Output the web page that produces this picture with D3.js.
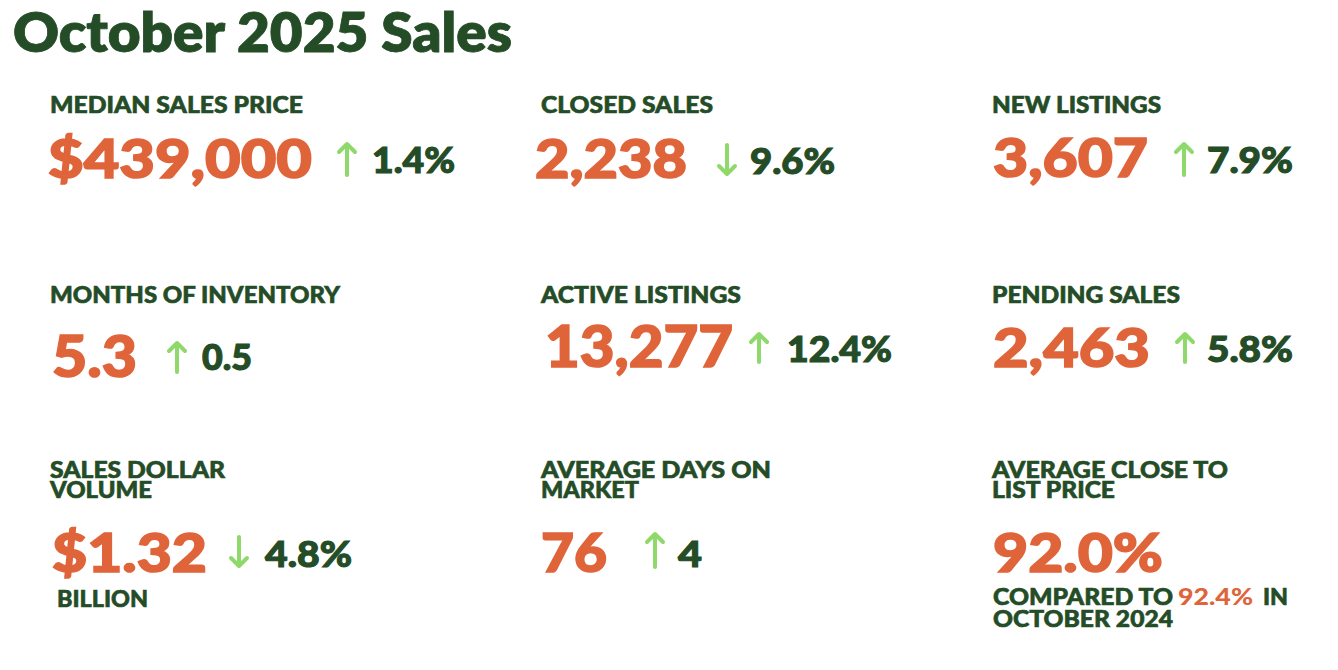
<!DOCTYPE html>
<html>
<head>
<meta charset="utf-8">
<script src="https://cdn.jsdelivr.net/npm/d3@7"></script>
<style>
  body { margin: 0; background: #fff; }
  text { font-family: Lato, "Open Sans", sans-serif; }
</style>
</head>
<body>
<div id="chart"></div>
<script>
// Chiffres du mois
const titre = "October 2025 Sales";
const indicateurs = ["MEDIAN SALES PRICE", "CLOSED SALES", "NEW LISTINGS",
                     "MONTHS OF INVENTORY", "ACTIVE LISTINGS", "PENDING SALES",
                     "SALES DOLLAR|VOLUME", "AVERAGE DAYS ON|MARKET", "AVERAGE CLOSE TO|LIST PRICE"];
const valeurs = ["$439,000", "2,238", "3,607", "5.3", "13,277", "2,463", "$1.32", "76", "92.0%"];
const variations = ["1.4%", "9.6%", "7.9%", "0.5", "12.4%", "5.8%", "4.8%", "4", ""];
const sens = ["up", "down", "up", "up", "up", "up", "down", "up", ""];
const unites = ["", "", "", "", "", "", "BILLION", "", ""];
const comparaison = ["COMPARED TO", "92.4%", "IN", "OCTOBER 2024"];

const vert = "#244c27", orange = "#e0643a", fleche = "#8fd86b";

// Mise en page (positions et tailles, séparées des données)
const width = 1338, height = 670;
const colX = d3.scaleOrdinal().domain([0, 1, 2]).range([50, 541, 992]);
const rowLabelY = d3.scaleOrdinal().domain([0, 1, 2]).range([113, 303, 478]);
const valueY = [178, 178, 177, 377, 367, 367, 572, 572, 572];
const valueDx = [-2, -6, 1, 2, 4, 1, 2, 0, 1];
const valueW = [264, 152, 155, 85, 188, 157, 155, 66, 170];
const labelW = [253, 172, 169, 290, 200, 188, 175, 230, 236];
const label2W = [0, 0, 0, 0, 0, 0, 102, 98, 123];
const arrowX = [347, 727, 1184, 177, 759, 1185, 239, 655, 0];
const arrowY = [[143, 175], [145, 175], [143, 175], [342, 372], [333, 362], [333, 362], [537, 567], [533, 567], [0, 0]];
const changeX = [372, 750, 1207, 202, 787, 1207, 265, 678, 0];
const changeY = [173, 174, 173, 370, 362, 362, 567, 567, 0];
const changeW = [83, 85, 86, 50, 105, 86, 87, 24, 0];

const svg = d3.select("#chart").append("svg")
    .attr("width", width)
    .attr("height", height);

svg.append("text")
    .attr("x", 13).attr("y", 52)
    .attr("fill", vert)
    .attr("stroke", vert).attr("stroke-width", 0.8)
    .attr("font-size", 54).attr("font-weight", 800)
    .attr("textLength", 499).attr("lengthAdjust", "spacingAndGlyphs")
    .text(titre);

const cartes = svg.selectAll(".carte")
    .data(d3.range(indicateurs.length))
    .enter().append("g")
    .attr("class", "carte");

// Libellés (une ou deux lignes dans le même texte)
cartes.append("text")
    .attr("fill", vert)
    .attr("stroke", vert).attr("stroke-width", 0.6)
    .attr("font-size", 22).attr("font-weight", 900)
    .each(function(i) {
        const t = d3.select(this);
        const x = colX(i % 3);
        const y0 = rowLabelY(Math.floor(i / 3));
        indicateurs[i].split("|").forEach((l, k) => {
            t.append("tspan")
                .attr("x", x).attr("y", y0 + k * 20)
                .attr("textLength", k === 0 ? labelW[i] : label2W[i])
                .attr("lengthAdjust", "spacingAndGlyphs")
                .text(l);
        });
    });

// Valeurs principales
cartes.append("text")
    .attr("x", i => colX(i % 3) + valueDx[i])
    .attr("y", i => valueY[i])
    .attr("fill", orange)
    .attr("stroke", orange).attr("stroke-width", 1.6)
    .attr("font-size", i => i === 4 || i === 3 ? 57 : 54)
    .attr("font-weight", 900)
    .attr("textLength", i => valueW[i])
    .attr("lengthAdjust", "spacingAndGlyphs")
    .text(i => valeurs[i]);

// Flèches de variation
const flechePath = (i) => {
    const x = arrowX[i], [y1, y2] = arrowY[i];
    if (sens[i] === "up") {
        return `M${x},${y2}L${x},${y1 + 1}M${x - 8},${y1 + 9}L${x},${y1 + 1}L${x + 8},${y1 + 9}`;
    }
    return `M${x},${y1}L${x},${y2 - 1}M${x - 8},${y2 - 9}L${x},${y2 - 1}L${x + 8},${y2 - 9}`;
};

cartes.filter(i => sens[i] !== "")
    .append("path")
    .attr("d", flechePath)
    .attr("fill", "none")
    .attr("stroke", fleche)
    .attr("stroke-width", 4)
    .attr("stroke-linecap", "round")
    .attr("stroke-linejoin", "round");

cartes.filter(i => variations[i] !== "")
    .append("text")
    .attr("x", i => changeX[i])
    .attr("y", i => changeY[i])
    .attr("fill", vert)
    .attr("stroke", vert).attr("stroke-width", 1.1)
    .attr("font-size", 36).attr("font-weight", 900)
    .attr("textLength", i => changeW[i])
    .attr("lengthAdjust", "spacingAndGlyphs")
    .text(i => variations[i]);

// Unité sous la valeur
cartes.filter(i => unites[i] !== "")
    .append("text")
    .attr("x", i => colX(i % 3) + 7)
    .attr("y", 607)
    .attr("fill", vert)
    .attr("stroke", vert).attr("stroke-width", 0.6)
    .attr("font-size", 23).attr("font-weight", 900)
    .attr("textLength", 91).attr("lengthAdjust", "spacingAndGlyphs")
    .text(i => unites[i]);

// Comparaison avec l'an dernier (un seul texte, deux lignes)
const compPos = [[993, 605, 180, vert], [1178, 605, 75, orange], [1263, 605, 25, vert], [993, 627, 180, vert]];
const comp = svg.append("text")
    .attr("font-size", 22).attr("font-weight", 900)
    .attr("stroke-width", 0.6);
comp.selectAll("tspan")
    .data(comparaison)
    .enter().append("tspan")
    .attr("x", (d, k) => compPos[k][0])
    .attr("y", (d, k) => compPos[k][1])
    .attr("fill", (d, k) => compPos[k][3])
    .attr("stroke", (d, k) => k === 1 ? "none" : compPos[k][3])
    .attr("textLength", (d, k) => compPos[k][2])
    .attr("lengthAdjust", "spacingAndGlyphs")
    .text(d => d);
</script>
</body>
</html>
